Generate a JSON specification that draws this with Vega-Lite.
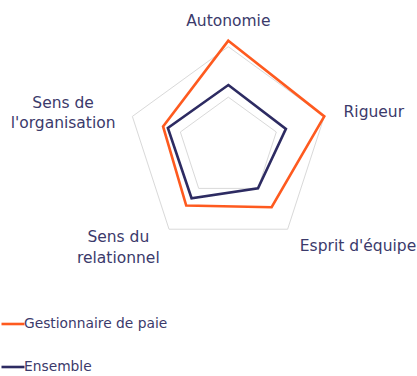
{
  "$schema": "https://vega.github.io/schema/vega-lite/v6.json",
  "width": 417,
  "height": 376,
  "autosize": {"type": "none"},
  "padding": 0,
  "background": "white",
  "config": {"view": {"stroke": null}, "font": "DejaVu Sans"},
  "datasets": {
    "grid": [
      {"axis": "Autonomie", "idx": 0, "level": 50},
      {"axis": "Rigueur", "idx": 1, "level": 50},
      {"axis": "Esprit d'équipe", "idx": 2, "level": 50},
      {"axis": "Sens du relationnel", "idx": 3, "level": 50},
      {"axis": "Sens de l'organisation", "idx": 4, "level": 50},
      {"axis": "Autonomie", "idx": 0, "level": 100},
      {"axis": "Rigueur", "idx": 1, "level": 100},
      {"axis": "Esprit d'équipe", "idx": 2, "level": 100},
      {"axis": "Sens du relationnel", "idx": 3, "level": 100},
      {"axis": "Sens de l'organisation", "idx": 4, "level": 100}
    ],
    "series": [
      {"series": "Gestionnaire de paie", "axis": "Autonomie", "idx": 0, "value": 106},
      {"series": "Gestionnaire de paie", "axis": "Rigueur", "idx": 1, "value": 100},
      {"series": "Gestionnaire de paie", "axis": "Esprit d'équipe", "idx": 2, "value": 73},
      {"series": "Gestionnaire de paie", "axis": "Sens du relationnel", "idx": 3, "value": 71},
      {"series": "Gestionnaire de paie", "axis": "Sens de l'organisation", "idx": 4, "value": 68},
      {"series": "Ensemble", "axis": "Autonomie", "idx": 0, "value": 62},
      {"series": "Ensemble", "axis": "Rigueur", "idx": 1, "value": 60},
      {"series": "Ensemble", "axis": "Esprit d'équipe", "idx": 2, "value": 50},
      {"series": "Ensemble", "axis": "Sens du relationnel", "idx": 3, "value": 62},
      {"series": "Ensemble", "axis": "Sens de l'organisation", "idx": 4, "value": 63}
    ],
    "labels": [
      {"label": "Autonomie", "idx": 0},
      {"label": "Rigueur", "idx": 1},
      {"label": "Esprit d'équipe", "idx": 2},
      {"label": "Sens du\nrelationnel", "idx": 3},
      {"label": "Sens de\nl'organisation", "idx": 4}
    ]
  },
  "encoding": {
    "x": {"field": "x", "type": "quantitative", "scale": {"domain": [-226.3, 187.0], "nice": false, "zero": false}, "axis": null},
    "y": {"field": "y", "type": "quantitative", "scale": {"domain": [-226.4, 146.3], "nice": false, "zero": false}, "axis": null}
  },
  "layer": [
    {
      "data": {"name": "grid"},
      "transform": [
        {"calculate": "datum.level * sin(datum.idx * 72 * PI / 180)", "as": "x"},
        {"calculate": "datum.level * cos(datum.idx * 72 * PI / 180)", "as": "y"}
      ],
      "mark": {"type": "line", "interpolate": "linear-closed", "stroke": "#d9d9d9", "strokeWidth": 1},
      "encoding": {
        "detail": {"field": "level", "type": "nominal"},
        "order": {"field": "idx", "type": "quantitative"}
      }
    },
    {
      "data": {"name": "series"},
      "transform": [
        {"calculate": "datum.value * sin(datum.idx * 72 * PI / 180)", "as": "x"},
        {"calculate": "datum.value * cos(datum.idx * 72 * PI / 180)", "as": "y"}
      ],
      "mark": {"type": "line", "interpolate": "linear-closed", "strokeWidth": 2.6},
      "encoding": {
        "color": {
          "field": "series",
          "type": "nominal",
          "scale": {"domain": ["Gestionnaire de paie", "Ensemble"], "range": ["#fe5a1f", "#2d2b62"]},
          "legend": {
            "title": null,
            "orient": "none",
            "legendX": 0,
            "legendY": 311,
            "padding": 0,
            "symbolType": "stroke",
            "symbolSize": 529,
            "symbolStrokeWidth": 2.6,
            "labelOffset": -2,
            "labelFontSize": 13.8,
            "labelColor": "#3b3a6b",
            "labelFont": "DejaVu Sans",
            "rowPadding": 23
          }
        },
        "order": {"field": "idx", "type": "quantitative"}
      }
    },
    {
      "data": {"name": "labels"},
      "transform": [
        {"filter": "datum.idx == 0"},
        {"calculate": "118 * sin(datum.idx * 72 * PI / 180)", "as": "x"},
        {"calculate": "118 * cos(datum.idx * 72 * PI / 180)", "as": "y"}
      ],
      "mark": {"type": "text", "align": "center", "baseline": "alphabetic", "dx": 0, "dy": -2.6, "fontSize": 15.5, "color": "#3b3a6b", "lineBreak": "\n", "lineHeight": 21},
      "encoding": {"text": {"field": "label"}}
    },
    {
      "data": {"name": "labels"},
      "transform": [
        {"filter": "datum.idx == 1"},
        {"calculate": "118 * sin(datum.idx * 72 * PI / 180)", "as": "x"},
        {"calculate": "118 * cos(datum.idx * 72 * PI / 180)", "as": "y"}
      ],
      "mark": {"type": "text", "align": "left", "baseline": "alphabetic", "dx": 2, "dy": 6.5, "fontSize": 15.5, "color": "#3b3a6b", "lineBreak": "\n", "lineHeight": 21},
      "encoding": {"text": {"field": "label"}}
    },
    {
      "data": {"name": "labels"},
      "transform": [
        {"filter": "datum.idx == 2"},
        {"calculate": "118 * sin(datum.idx * 72 * PI / 180)", "as": "x"},
        {"calculate": "118 * cos(datum.idx * 72 * PI / 180)", "as": "y"}
      ],
      "mark": {"type": "text", "align": "left", "baseline": "alphabetic", "dx": 1.5, "dy": 7, "fontSize": 15.5, "color": "#3b3a6b", "lineBreak": "\n", "lineHeight": 21},
      "encoding": {"text": {"field": "label"}}
    },
    {
      "data": {"name": "labels"},
      "transform": [
        {"filter": "datum.idx == 3"},
        {"calculate": "118 * sin(datum.idx * 72 * PI / 180)", "as": "x"},
        {"calculate": "118 * cos(datum.idx * 72 * PI / 180)", "as": "y"}
      ],
      "mark": {"type": "text", "align": "center", "baseline": "alphabetic", "dx": -40, "dy": -2, "fontSize": 15.5, "color": "#3b3a6b", "lineBreak": "\n", "lineHeight": 21.5},
      "encoding": {"text": {"field": "label"}}
    },
    {
      "data": {"name": "labels"},
      "transform": [
        {"filter": "datum.idx == 4"},
        {"calculate": "118 * sin(datum.idx * 72 * PI / 180)", "as": "x"},
        {"calculate": "118 * cos(datum.idx * 72 * PI / 180)", "as": "y"}
      ],
      "mark": {"type": "text", "align": "center", "baseline": "alphabetic", "dx": -52, "dy": -2.5, "fontSize": 15.5, "color": "#3b3a6b", "lineBreak": "\n", "lineHeight": 20},
      "encoding": {"text": {"field": "label"}}
    }
  ]
}
